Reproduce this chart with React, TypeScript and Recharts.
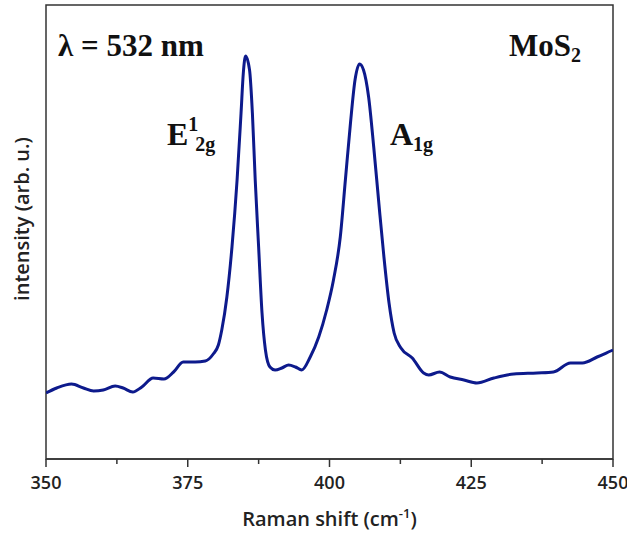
import React from 'react';
import { LineChart, Line, XAxis, YAxis, ReferenceArea } from 'recharts';

// Raman shift (cm^-1)
const ramanShift = [
  350.0, 351.9, 354.5, 356.6, 358.4, 360.1, 362.2, 363.6, 365.3, 366.9,
  368.9, 370.8, 372.5, 374.2, 376.3, 378.1, 379.5, 380.4, 381.0, 381.9,
  382.8, 383.7, 384.4, 384.8, 385.2, 385.9, 386.4, 386.9, 387.5, 388.1,
  388.7, 389.5, 390.4, 391.6, 392.8, 394.0, 395.1, 396.6, 398.1, 399.5,
  400.7, 401.9, 402.8, 403.7, 404.5, 405.3, 406.0, 406.9, 407.8, 408.7,
  409.6, 410.5, 411.4, 412.6, 414.6, 416.6, 417.5, 419.4, 421.3, 423.7,
  426.0, 429.0, 432.5, 436.6, 439.5, 442.5, 444.6, 447.2, 449.6, 450.0,
];

// intensity (arb. u.)
const intensity = [
  66, 71, 75, 71, 68, 69, 73, 71, 67, 72,
  81, 80, 87, 97, 97, 98, 105, 114, 129, 162,
  212, 279, 346, 386, 403, 389, 346, 279, 212, 146,
  109, 92, 89, 91, 94, 92, 89, 102, 122, 149,
  179, 222, 279, 336, 379, 395, 389, 362, 312, 256,
  202, 156, 126, 111, 101, 86, 84, 87, 82, 79,
  76, 81, 85, 86, 87, 96, 96, 102, 108, 109,
];

const majorTicks = [350, 375, 400, 425, 450];
const minorTicks = [362.5, 387.5, 412.5, 437.5];
const allTicks = [...majorTicks, ...minorTicks].sort((a, b) => a - b);

const data = ramanShift.map((x, i) => ({ x, y: intensity[i] }));

const AXIS = '#333333';
const LINE = '#0d1a8c';
const SANS = '"Open Sans", sans-serif';
const SERIF = '"Liberation Serif", "Times New Roman", serif';

const AxisTick = (props: any) => {
  const { x, y, payload } = props;
  const v = payload.value;
  const major = majorTicks.includes(v);
  return (
    <g>
      <line x1={x} x2={x} y1={y} y2={y + (major ? 8 : 5)} stroke={AXIS} strokeWidth={1.5} />
      {major && (
        <text x={x} y={y + 17} dy="0.71em" textAnchor="middle" fontFamily={SANS} fontWeight={600} fontSize={18} fill="#222">
          {v}
        </text>
      )}
    </g>
  );
};

export default function App() {
  return (
    <div style={{ position: 'absolute', left: 0, top: 0 }}>
      <LineChart width={627} height={533} data={data} margin={{ top: 5, right: 14, left: 0, bottom: 0 }}>
        <XAxis
          dataKey="x"
          type="number"
          domain={[350, 450]}
          ticks={allTicks}
          interval={0}
          allowDataOverflow
          height={74}
          tickSize={0}
          tickMargin={0}
          tickLine={false}
          axisLine={{ stroke: AXIS, strokeWidth: 1.5 }}
          tick={<AxisTick />}
          label={{
            content: (p: any) => {
              const vb = p.viewBox || { x: 46, width: 567 };
              const cx = vb.x + vb.width / 2;
              return (
                <text x={cx} y={526} textAnchor="middle" fontFamily={SANS} fontWeight={600} fontSize={20} fill="#222">
                  Raman shift (cm
                  <tspan dy={-8} fontSize={13}>-1</tspan>
                  <tspan dy={8}>)</tspan>
                </text>
              );
            },
          }}
        />
        <YAxis
          type="number"
          domain={[0, 454]}
          width={46}
          tick={false}
          tickLine={false}
          axisLine={false}
          label={{
            content: () => (
              <text
                x={0}
                y={0}
                transform="translate(29, 219) rotate(-90)"
                textAnchor="middle"
                fontFamily={SANS}
                fontWeight={600}
                fontSize={20}
                fill="#222"
              >
                intensity (arb. u.)
              </text>
            ),
          }}
        />
        <ReferenceArea x1={350} x2={450} y1={0} y2={454} fill="none" stroke={AXIS} strokeWidth={1.5} ifOverflow="extendDomain" />
        <Line type="monotone" dataKey="y" stroke={LINE} strokeWidth={3} dot={false} isAnimationActive={false} />
        <text x={58} y={56} fontFamily={SERIF} fontWeight={700} fontSize={31} fill="#111">λ = 532 nm</text>
        <text x={509} y={56} fontFamily={SERIF} fontWeight={700} fontSize={31} fill="#111">
          MoS<tspan dy={6} fontSize={20}>2</tspan>
        </text>
        <text x={167} y={145} fontFamily={SERIF} fontWeight={700} fontSize={32} fill="#111">
          E<tspan dy={-14} fontSize={20}>1</tspan>
          <tspan dx={-3} dy={20} fontSize={20}>2g</tspan>
        </text>
        <text x={390} y={145} fontFamily={SERIF} fontWeight={700} fontSize={32} fill="#111">
          A<tspan dy={6} fontSize={20}>1g</tspan>
        </text>
      </LineChart>
    </div>
  );
}
